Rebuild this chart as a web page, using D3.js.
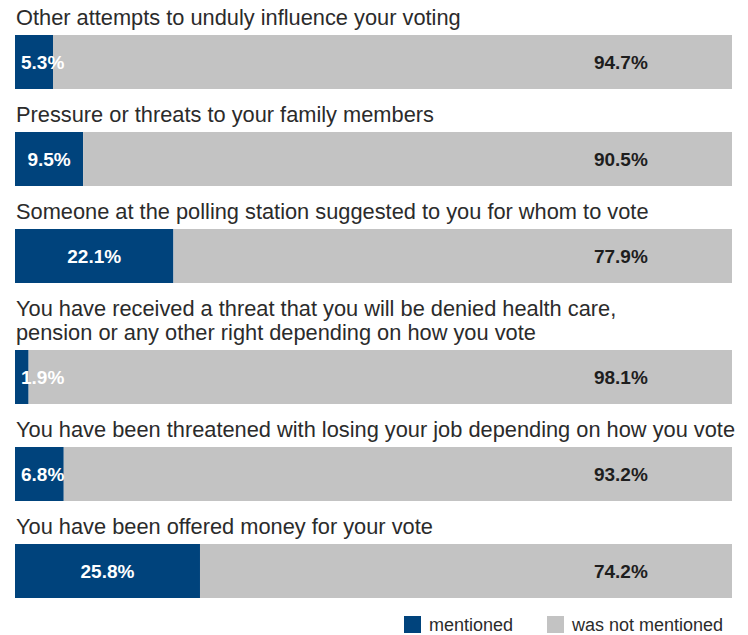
<!DOCTYPE html>
<html>
<head>
<meta charset="utf-8">
<script src="https://cdn.jsdelivr.net/npm/d3@7"></script>
<style>
  html, body { margin: 0; padding: 0; background: #ffffff; }
  svg { display: block; font-family: "Liberation Sans", Arial, Helvetica, sans-serif; }
</style>
</head>
<body>
<svg id="chart" width="748" height="635"></svg>
<script>
// Survey items (each entry is one line of the label)
const categories = [
  ["Other attempts to unduly influence your voting"],
  ["Pressure or threats to your family members"],
  ["Someone at the polling station suggested to you for whom to vote"],
  ["You have received a threat that you will be denied health care,",
   "pension or any other right depending on how you vote"],
  ["You have been threatened with losing your job depending on how you vote"],
  ["You have been offered money for your vote"]
];
const mentioned    = [5.3, 9.5, 22.1, 1.9, 6.8, 25.8];
const notMentioned = [94.7, 90.5, 77.9, 98.1, 93.2, 74.2];
const seriesNames  = ["mentioned", "was not mentioned"];
const colors       = ["#00437c", "#c3c3c3"];

const svg = d3.select("#chart");

const x = d3.scaleLinear().domain([0, 100]).range([15, 732]);
const color = d3.scaleOrdinal().domain(seriesNames).range(colors);

const barH = 54, lineH = 24, rowStep = 97, firstTop = 35;

// vertical placement: each extra label line pushes the following rows down
let acc = firstTop;
const rows = categories.map((lines, i) => {
  const top = acc + lineH * (lines.length - 1);
  acc = top + rowStep;
  return { lines, top, m: mentioned[i], n: notMentioned[i] };
});

const g = svg.append("g");

const row = g.selectAll("g.row").data(rows).join("g").attr("class", "row");

// category labels
row.each(function (d) {
  const sel = d3.select(this);
  d.lines.forEach((t, k) => {
    sel.append("text")
      .attr("x", 16)
      .attr("y", d.top - 10 - lineH * (d.lines.length - 1 - k))
      .attr("font-size", 21.8)
      .attr("fill", "#2b2b2b")
      .text(t);
  });
});

// stacked segments
row.append("rect")
  .attr("x", x(0))
  .attr("y", d => d.top)
  .attr("width", d => x(d.m) - x(0))
  .attr("height", barH)
  .attr("fill", color("mentioned"));

row.append("rect")
  .attr("x", d => x(d.m))
  .attr("y", d => d.top)
  .attr("width", d => x(d.m + d.n) - x(d.m))
  .attr("height", barH)
  .attr("fill", color("was not mentioned"));

// value labels
const fmt = v => v.toFixed(1) + "%";

row.append("text")
  .attr("class", "restLabel")
  .attr("x", x(84.5))
  .attr("y", d => d.top + barH / 2 + 7)
  .attr("text-anchor", "middle")
  .attr("font-size", 19)
  .attr("font-weight", "bold")
  .attr("fill", "#1e1e1e")
  .text(d => fmt(d.n));

row.append("text")
  .attr("class", "mainLabel")
  .attr("y", d => d.top + barH / 2 + 7)
  .attr("text-anchor", "middle")
  .attr("font-size", 19)
  .attr("font-weight", "bold")
  .attr("fill", "#ffffff")
  .text(d => fmt(d.m))
  .attr("x", function (d) {
    const w = this.getComputedTextLength();
    const c = (x(0) + x(d.m)) / 2;
    return Math.max(c, x(0) + 6 + w / 2);
  });

// legend
const legend = svg.append("g");
const items = [
  { name: seriesNames[0], x0: 404 },
  { name: seriesNames[1], x0: 547 }
];
const li = legend.selectAll("g").data(items).join("g")
  .attr("transform", d => `translate(${d.x0},616)`);
li.append("rect").attr("width", 17).attr("height", 17).attr("fill", d => color(d.name));
li.append("text")
  .attr("x", 25).attr("y", 15)
  .attr("font-size", 18)
  .attr("fill", "#2b2b2b")
  .text(d => d.name);
</script>
</body>
</html>
